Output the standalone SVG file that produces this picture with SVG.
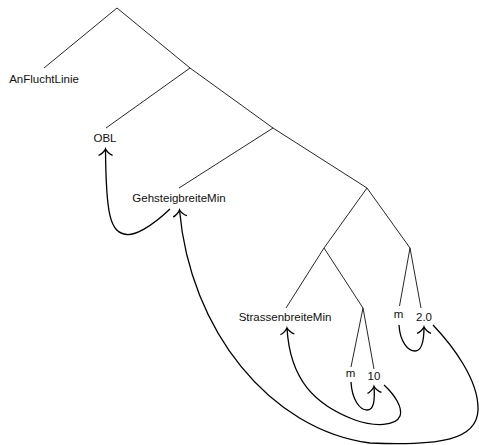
<svg xmlns="http://www.w3.org/2000/svg" width="479" height="445" viewBox="0 0 479 445">
<style>
text{font-family:"Liberation Sans",Arial,sans-serif;font-size:11.5px;fill:#111;text-anchor:middle}
.edge{stroke:#000;stroke-width:0.85;fill:none}
.arr{stroke:#000;stroke-width:1.3;fill:none;marker-end:url(#to)}
</style>
<defs>
<marker id="to" markerUnits="userSpaceOnUse" orient="auto" refX="0" refY="0" markerWidth="20" markerHeight="20" viewBox="-10 -10 20 20" overflow="visible">
<path d="M-6.3,-7 C-5.9,-4.4 -1.3,-0.4 0,0 C-1.3,0.4 -5.9,4.4 -6.3,7" fill="none" stroke="#000" stroke-width="1.3"/>
</marker>
</defs>
<g id="connectors">
<path class="edge" d="M44,68 L117,8 L190,68"/>
<path class="edge" d="M106,128 L190,68 L273,128"/>
<path class="edge" d="M179,188 L273,128 L367,188"/>
<path class="edge" d="M324,248 L367,188 L410,248"/>
<path class="edge" d="M286,308 L324,248 L363,308"/>
<path class="edge" d="M351,367 L363,308 L374,369"/>
<path class="edge" d="M399.5,306 L410,248 L421,308"/>
<path class="arr" d="M170,209 C150,228 135,235 127,234.5 C110,233 106,215 105.5,149"/>
<path class="arr" d="M433,325 C452,345 479,380 478,410 C477,440 440,446 370,443 C270,430 190,330 179.5,210"/>
<path class="arr" d="M384,385 C395,395 403,408 400,416 C396,426 375,427 355,420 C315,405 290,380 287,328"/>
<path class="arr" d="M351,382 C352,400 360,410 367,410 C374,410 375,400 374,386.5"/>
<path class="arr" d="M399,325 C400,342 408,351 415,351 C422,351 424,340 424,327"/>
</g>
<g id="n-anfluchtlinie"><text x="44" y="82.5">AnFluchtLinie</text></g>
<g id="n-obl"><text x="105" y="141.5">OBL</text></g>
<g id="n-gehsteigbreitemin"><text x="179" y="201.5">GehsteigbreiteMin</text></g>
<g id="n-strassenbreitemin"><text x="285" y="320.5">StrassenbreiteMin</text></g>
<g id="n-m1"><text x="350.5" y="377">m</text></g>
<g id="n-10"><text x="374" y="380">10</text></g>
<g id="n-m2"><text x="398.5" y="317.5">m</text></g>
<g id="n-2-0"><text x="424" y="320.5">2.0</text></g>
</svg>
